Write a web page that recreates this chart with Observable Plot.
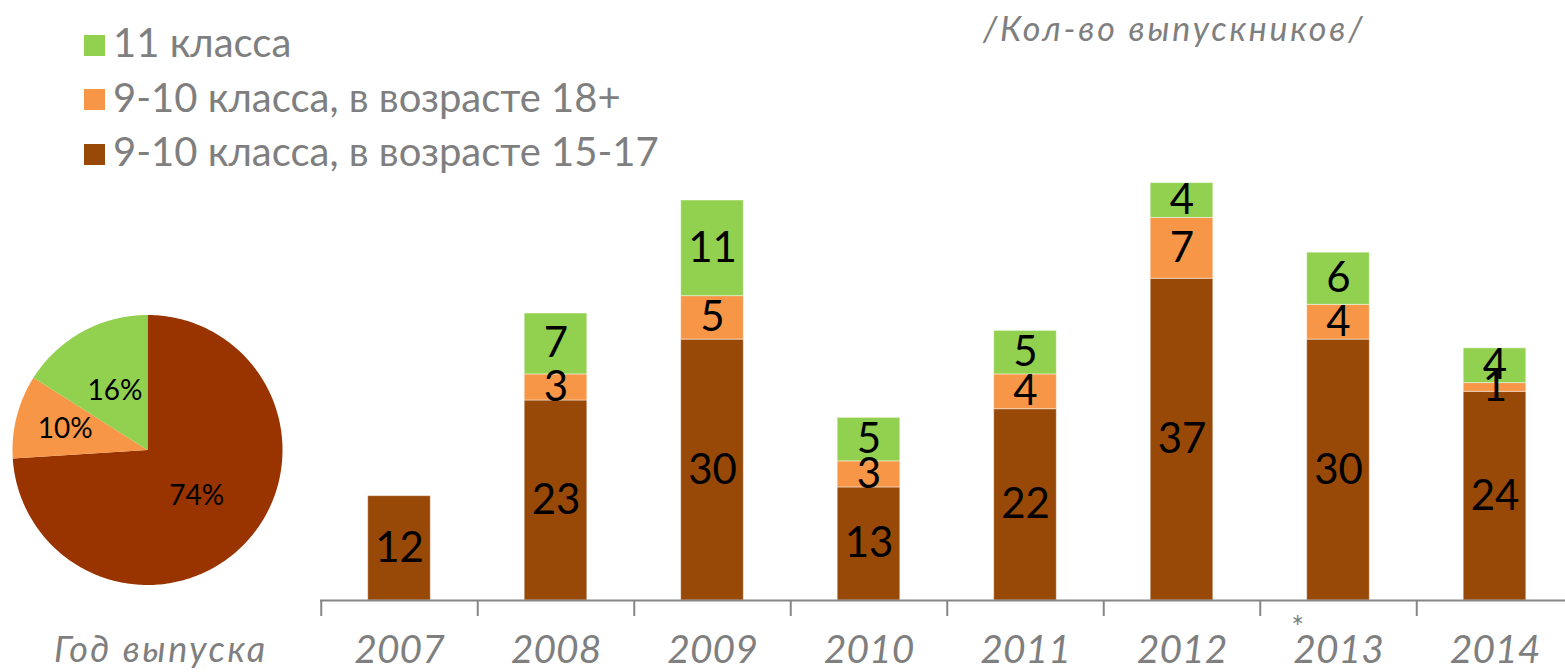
<!DOCTYPE html>
<html>
<head>
<meta charset="utf-8">
<script src="https://cdn.jsdelivr.net/npm/d3@7"></script>
<script src="https://cdn.jsdelivr.net/npm/@observablehq/plot@0.6"></script>
<style>
  html, body { margin: 0; padding: 0; background: #fff; }
  #wrap { position: relative; width: 1565px; height: 672px; overflow: hidden; font-family: Lato, "Noto Sans", sans-serif; }
  #wrap svg { position: absolute; left: 0; top: 0; max-width: none; overflow: visible; background: transparent; }
  .legend { position: absolute; left: 84px; top: 15px; color: #7F7F7F; font-size: 40px; line-height: 54.5px; }
  .legend .item { display: flex; align-items: center; white-space: nowrap; }
  .legend .sw { width: 21px; height: 21px; margin-right: 8px; flex: none; position: relative; top: 3px; }
  .title { position: absolute; left: 983px; top: 7px; color: #7F7F7F; font-size: 34px; letter-spacing: 2.8px; font-style: italic; white-space: nowrap; }
  .xlabel { position: absolute; left: 54px; top: 626px; color: #7F7F7F; font-size: 36px; letter-spacing: 2.5px; font-style: italic; white-space: nowrap; }
</style>
</head>
<body>
<div id="wrap"></div>
<script>
// ---- data ----
const years = [2007, 2008, 2009, 2010, 2011, 2012, 2013, 2014];
const age1517 = [12, 23, 30, 13, 22, 37, 30, 24];
const age18 = [0, 3, 5, 3, 4, 7, 4, 1];
const grade11 = [0, 7, 11, 5, 5, 4, 6, 4];
const piePercent = [74, 10, 16];
const seriesNames = ["9-10 класса, в возрасте 15-17", "9-10 класса, в возрасте 18+", "11 класса"];
const legendOrder = ["11 класса", "9-10 класса, в возрасте 18+", "9-10 класса, в возрасте 15-17"];
const barColors = ["#984807", "#F79646", "#92D050"];
const pieColors = ["#993300", "#F79646", "#92D050"];
const notes = [{year: 2013, mark: "*"}];
const titleText = "/Кол-во выпускников/";
const xTitle = "Год выпуска";

const wrap = document.getElementById("wrap");
const font = 'Lato, "Noto Sans", sans-serif';
const gray = "#7F7F7F";

// ---- stacked rows ----
const seriesValues = [age1517, age18, grade11];
const rows = [];
years.forEach((yr, i) => {
  let cum = 0;
  seriesValues.forEach((vals, s) => {
    const v = vals[i];
    if (v > 0) rows.push({year: yr, series: seriesNames[s], value: v, y1: cum, y2: cum + v});
    cum += v;
  });
});

const barPlot = Plot.plot({
  width: 1565,
  height: 672,
  marginLeft: 320,
  marginRight: 0,
  marginTop: 0,
  marginBottom: 56,
  style: {fontFamily: font, background: "transparent", overflow: "visible"},
  x: {type: "linear", domain: [2006.5, 2014.5], range: [320.75, 1572.75], axis: null},
  y: {type: "linear", domain: [0, 48], range: [600, 182.6], axis: null},
  color: {domain: seriesNames, range: barColors},
  marks: [
    Plot.rect(rows, {x1: d => d.year - 0.2, x2: d => d.year + 0.2, y1: "y1", y2: "y2", fill: "series", stroke: "#ffffff", strokeOpacity: 0.45, strokeWidth: 1}),
    Plot.text(rows, {x: "year", y: d => (d.y1 + d.y2) / 2, text: d => String(d.value), fill: "#000", fontSize: 42}),
    Plot.ruleY([0], {stroke: "#868686", strokeWidth: 2}),
    Plot.ruleX(years, {x: d => d - 0.5, y1: 0, y2: 0, insetBottom: -16, stroke: "#868686", strokeWidth: 2}),
    Plot.text(years, {x: d => d, y: 0, dy: 50, text: d => String(d), fill: gray, fontSize: 39, fontStyle: "italic"}),
    Plot.text(notes, {x: "year", y: 0, dx: -41, dy: 28, text: "mark", fill: gray, fontSize: 30})
  ]
});
wrap.appendChild(barPlot);

// ---- pie ----
const grand = d3.sum(piePercent);
const pts = [];
const labels = [];
let acc = 0;
piePercent.forEach((t, s) => {
  const a0 = acc / grand * 2 * Math.PI;
  const a1 = (acc + t) / grand * 2 * Math.PI;
  pts.push({series: seriesNames[s], x: 0, y: 0});
  const n = Math.max(2, Math.ceil((a1 - a0) / (Math.PI / 180)));
  for (let k = 0; k <= n; k++) {
    const a = a0 + (a1 - a0) * k / n;
    pts.push({series: seriesNames[s], x: Math.sin(a), y: Math.cos(a)});
  }
  pts.push({series: seriesNames[s], x: 0, y: 0});
  const share = t / grand;
  const am = (a0 + a1) / 2;
  const r = share < 0.12 ? 0.63 : 0.5;
  labels.push({x: r * Math.sin(am), y: r * Math.cos(am), text: t + "%"});
  acc += t;
});

const piePlot = Plot.plot({
  width: 300,
  height: 672,
  margin: 0,
  style: {fontFamily: font, background: "transparent", overflow: "visible"},
  x: {type: "linear", domain: [-1, 1], range: [12, 282], axis: null},
  y: {type: "linear", domain: [-1, 1], range: [584.5, 314.5], axis: null},
  color: {domain: seriesNames, range: pieColors},
  marks: [
    Plot.line(pts, {x: "x", y: "y", z: "series", fill: "series", stroke: "none"}),
    Plot.text(labels, {x: "x", y: "y", text: "text", fill: "#000", fontSize: 28})
  ]
});
wrap.appendChild(piePlot);

// ---- legend, titles ----
const legend = document.createElement("div");
legend.className = "legend";
legendOrder.forEach(name => {
  const item = document.createElement("div");
  item.className = "item";
  const sw = document.createElement("span");
  sw.className = "sw";
  sw.style.background = barColors[seriesNames.indexOf(name)];
  const tx = document.createElement("span");
  tx.textContent = name;
  item.appendChild(sw);
  item.appendChild(tx);
  legend.appendChild(item);
});
wrap.appendChild(legend);

const title = document.createElement("div");
title.className = "title";
title.textContent = titleText;
wrap.appendChild(title);

const xl = document.createElement("div");
xl.className = "xlabel";
xl.textContent = xTitle;
wrap.appendChild(xl);
</script>
</body>
</html>
